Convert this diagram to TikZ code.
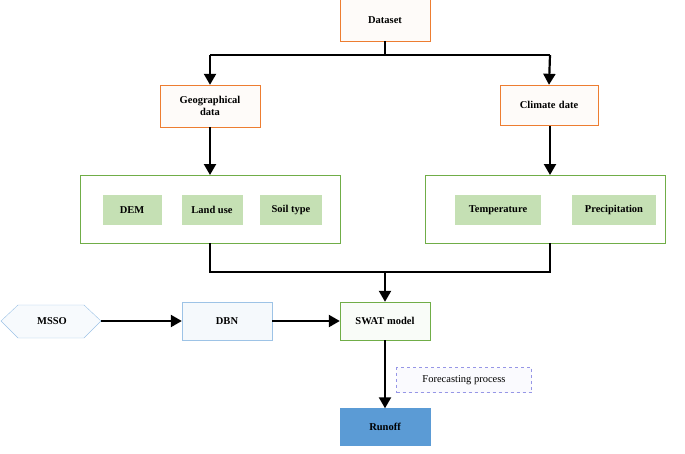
\documentclass[tikz,border=0pt]{standalone}
\usepackage{fontspec}
\setmainfont{Liberation Serif}
\usetikzlibrary{arrows.meta}
\definecolor{org}{RGB}{237,125,49}
\definecolor{grn}{RGB}{112,173,71}
\definecolor{lgrn}{RGB}{197,224,180}
\definecolor{blu}{RGB}{91,155,213}
\definecolor{lblu}{RGB}{157,195,230}
\definecolor{dash}{RGB}{150,150,230}
\begin{document}
\begin{tikzpicture}[x=1pt,y=-1pt,font=\fontsize{10.5}{12}\selectfont\bfseries,
 box/.style={draw,minimum height=#1,inner sep=1pt,align=center},
 ob/.style={box=42,draw=org,fill=org!3,text width=96},
 gb/.style={draw=grn,thick,fill=white},
 inb/.style={fill=lgrn,minimum height=30,inner sep=2pt},
 ar/.style={line width=2.2pt,-{Triangle[length=11pt,width=12pt]}},
 ln/.style={line width=2.2pt}]
\useasboundingbox (0,0) rectangle (685,453);
\node[ob,minimum width=90,text width=86] (ds) at (385,20) {Dataset};
\node[ob,minimum width=100,text width=96] (geo) at (210,106) {Geographical\\data};
\node[ob,minimum width=98,minimum height=40,text width=94] (cli) at (549,105) {Climate date};
\draw[gb] (80,175) rectangle (340,243);
\draw[gb] (425,175) rectangle (665,243);
\node[inb,minimum width=59] (dem) at (132,210) {DEM};
\node[inb,minimum width=61] (lu) at (212,210) {Land use};
\node[inb,minimum width=62] (st) at (291,210) {Soil type};
\node[inb,minimum width=86] (tmp) at (498,210) {Temperature};
\node[inb,minimum width=84] (pre) at (614,210) {Precipitation};
\coordinate (gl) at (210,243); \coordinate (gr) at (550,243);
\draw[lblu,fill=lblu!8] (1,321)--(18,305)--(84,305)--(101,321)--(84,338)--(18,338)--cycle;
\node (msso) at (52,321) {MSSO};
\coordinate (mse) at (101,321);
\node[box=38,draw=lblu,fill=lblu!10,minimum width=90] (dbn) at (227,321) {DBN};
\node[box=38,draw=grn,fill=grn!4,minimum width=90] (swat) at (385,321) {SWAT model};
\node[box=37,draw=blu,fill=blu,minimum width=90] (ro) at (385,427) {Runoff};
\node[box=25,draw=dash,dashed,fill=dash!5,minimum width=135,font=\fontsize{10.5}{12}\selectfont] (fp) at (464,380) {Forecasting process};
\coordinate (top) at (385,55);
\draw[ln] (ds.south)--(top);
\draw[ar] (210,55)--(geo.north);
\draw[ar] (550,55)--(cli.north);
\draw[ln] (210,55)--(550,55);
\draw[ar] (geo.south)--(210,175);
\draw[ar] (550,126)--(550,175);
\draw[ln] (gl)--(210,272)--(550,272)--(gr);
\draw[ar] (385,272)--(swat.north);
\draw[ar] (mse)--(dbn.west);
\draw[ar] (dbn.east)--(swat.west);
\draw[ar] (swat.south)--(ro.north);
\end{tikzpicture}
\end{document}
